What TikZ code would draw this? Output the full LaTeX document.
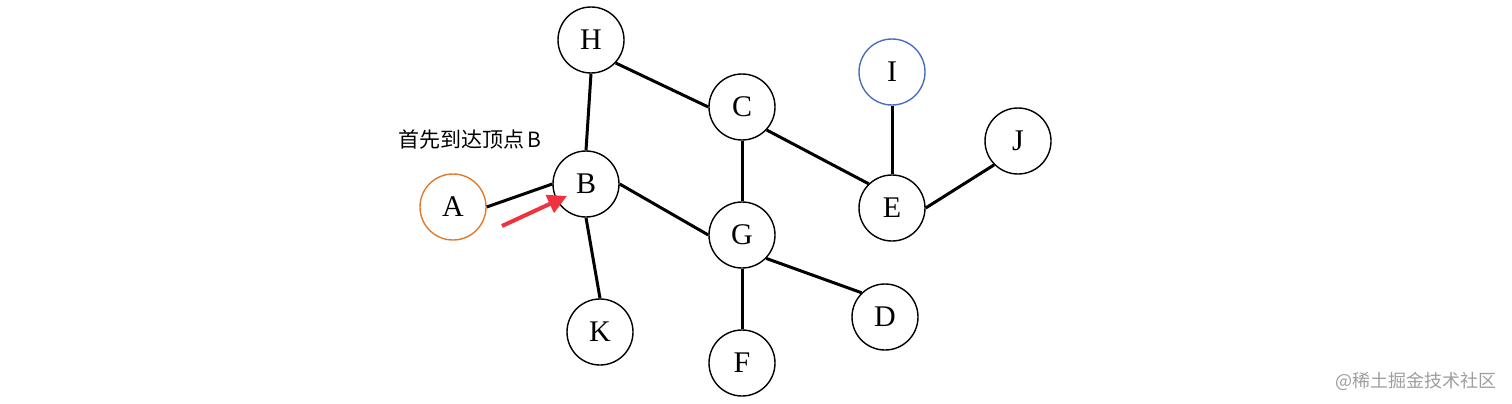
\documentclass[tikz,border=0pt]{standalone}
\usepackage{fontspec}
\setmainfont{Liberation Serif}
\newfontfamily\cjk{Noto Sans CJK SC}
\usetikzlibrary{arrows.meta}
\definecolor{borange}{HTML}{E07B2C}
\definecolor{bblue}{HTML}{4A6FC0}
\definecolor{bred}{HTML}{F0323F}
\begin{document}
\begin{tikzpicture}[x=1pt,y=-1pt,
  vert/.style={circle,draw=black,line width=1.4pt,minimum size=66pt,inner sep=0pt,font=\fontsize{30}{32}\selectfont},
  edge/.style={line width=3pt,black}]
\useasboundingbox (0,0) rectangle (1512,404);
\node[vert] (H) at (591,40) {H};
\node[vert] (C) at (742,107) {C};
\node[vert,draw=bblue] (I) at (892,72) {I};
\node[vert] (J) at (1018,141) {J};
\node[vert] (B) at (586,184) {B};
\node[vert,draw=borange] (A) at (453,207) {A};
\node[vert] (E) at (892,208) {E};
\node[vert] (G) at (742,235) {G};
\node[vert] (K) at (600,332) {K};
\node[vert] (F) at (742,363) {F};
\node[vert] (D) at (885,317) {D};
\draw[edge] (A.east) -- (B.west);
\draw[edge] (B.north) -- (H.south);
\draw[edge] (H.-43) -- (C.west);
\draw[edge] (C.south) -- (G.north);
\draw[edge] (C.-43) -- (E.134);
\draw[edge] (B.east) -- (G.west);
\draw[edge] (B.south) -- (K.north);
\draw[edge] (G.south) -- (F.north);
\draw[edge] (G.-44) -- (D.134);
\draw[edge] (I.south) -- (E.north);
\draw[edge] (E.east) -- (J.225);
\node[font=\cjk\fontsize{21}{24}\selectfont,anchor=west,inner sep=0pt] (lbl) at (398,140) {首先到达顶点\hspace{3pt}B};
\coordinate (arrS) at (502,226);
\coordinate (arrT) at (567,196);
\draw[bred,line width=4pt,-{Triangle[length=19pt,width=19pt]}] (arrS) -- (arrT);
\node[font=\cjk\fontsize{18}{20}\selectfont,text=black!38,anchor=east,inner sep=0pt] (wm) at (1497,381) {@稀土掘金技术社区};
\end{tikzpicture}
\end{document}
